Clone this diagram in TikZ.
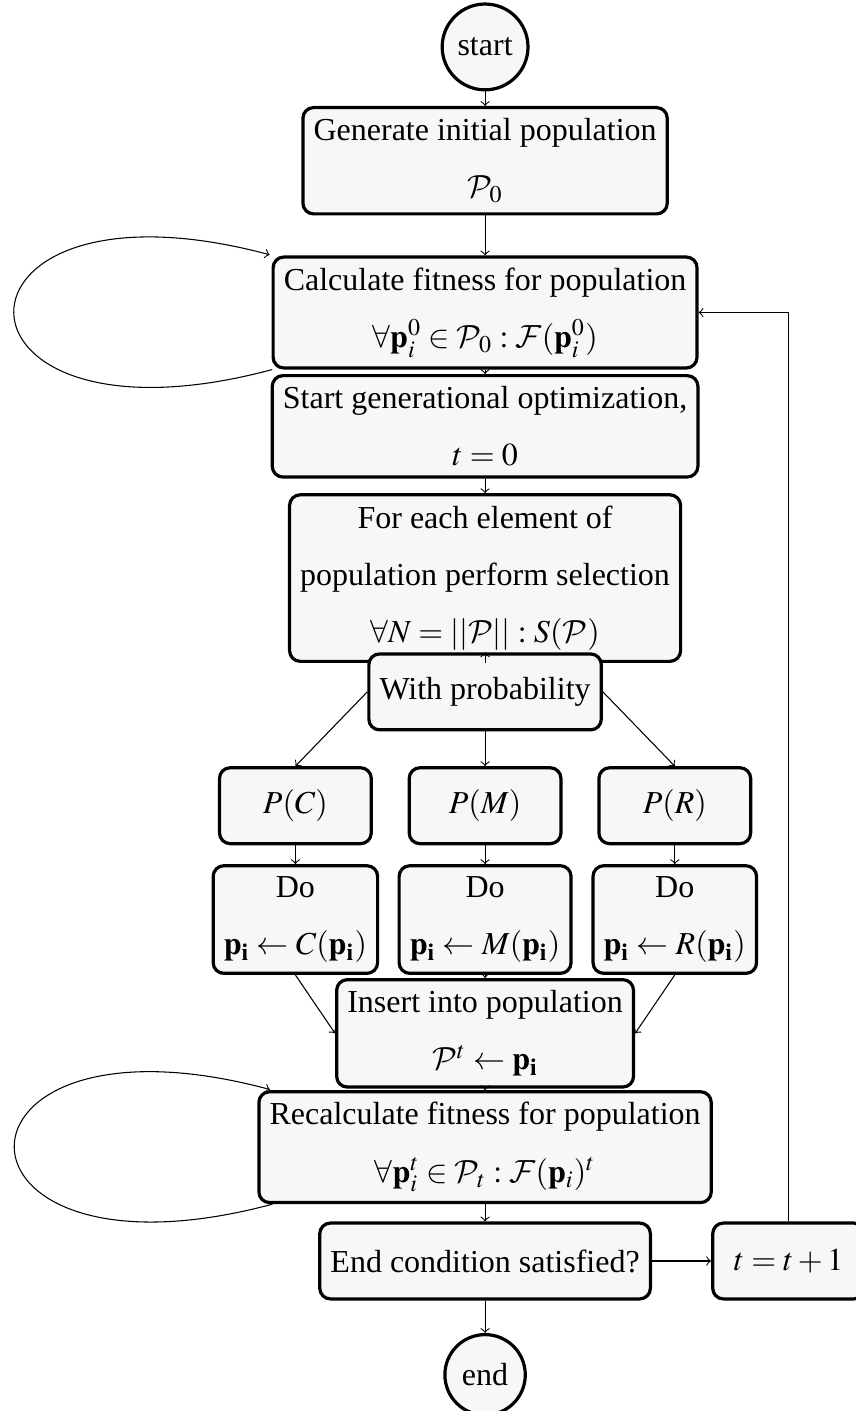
\documentclass[tikz,border=0pt,12pt]{standalone}
\usepackage{mathptmx}
\DeclareMathAlphabet{\mathcal}{OMS}{cmsy}{m}{n}
\usepackage{fontspec}
\setmainfont{Liberation Serif}
\usetikzlibrary{positioning}

\begin{document}
\begin{tikzpicture}[
    node distance=1.5cm,
    block/.style={rectangle, rounded corners, draw, very thick, fill=black!3, minimum width=2cm, minimum height=1cm, align=center},
    term/.style={circle, draw, very thick, fill=black!3}
]
    \useasboundingbox (-181.9pt,17.6pt) rectangle (138.75pt,-511.5pt);
    \node[term] (start) {start};
    \node[block, below of=start] (init) {Generate initial population\\[7pt] $\mathcal{P}_0$};
    \node[block, node distance=2cm, below of=init] (fit) {Calculate fitness for population\\[7pt] $\forall \mathbf{p}_i^0 \in \mathcal{P}_0 : \mathcal{F}(\mathbf{p}_i^0)$};
    \node[block, below of=fit] (gen) {Start generational optimization,\\[7pt] $t = 0$};
    \node[block, node distance=2cm, below of=gen] (select) {For each element of\\[7pt] population perform selection\\[7pt] $\forall N = ||\mathcal{P}|| : S(\mathcal{P})$};
    \node[block, below of=select] (prob) {With probability};
    \node[block, below of=prob] (pm) {$P(M)$};
    \node[block, node distance=2.5cm, left of=pm] (pc) {$P(C)$};
    \node[block, node distance=2.5cm, right of=pm] (pr) {$P(R)$};
    \node[block, below of=pc] (doc) {Do\\[7pt] $\mathbf{p_i} \leftarrow C(\mathbf{p_i})$};
    \node[block, below of=pm] (dom) {Do\\[7pt] $\mathbf{p_i} \leftarrow M(\mathbf{p_i})$};
    \node[block, below of=pr] (dor) {Do\\[7pt] $\mathbf{p_i} \leftarrow R(\mathbf{p_i})$};
    \node[block, below of=dom] (insert) {Insert into population\\[7pt] $\mathcal{P}^t \leftarrow \mathbf{p_i}$};
    \node[block, below of=insert] (refit) {Recalculate fitness for population\\[7pt] $\forall \mathbf{p}_i^t \in \mathcal{P}_t : \mathcal{F}(\mathbf{p}_i)^t$};
    \node[block, below of=refit] (cond) {End condition satisfied?};
    \node[block, node distance=4cm, right of=cond] (incr) {$t = t + 1$};
    \node[term, below of=cond] (end) {end};

    \draw[->] (start) -- (init);
    \draw[->] (init) -- (fit);
    \draw (fit) edge[loop left] (fit);
    \draw[->] (fit) -- (gen);
    \draw[->] (gen) -- (select);
    \draw[->] (select) -- (prob);
    \draw[->] (prob.west) -- (pc.north);
    \draw[->] (prob) -- (pm);
    \draw[->] (prob.east) -- (pr.north);
    \draw[->] (pc) -- (doc);
    \draw[->] (pm) -- (dom);
    \draw[->] (pr) -- (dor);
    \draw[->] (doc.south) -- (insert.west);
    \draw[->] (dom) -- (insert);
    \draw[->] (dor.south) -- (insert.east);
    \draw[->] (insert) -- (refit);
    \draw (refit) edge[loop left] (refit);
    \draw[->] (refit) -- (cond);
    \draw[->] (cond) -- (incr);
    \draw[->] (incr.north) |- (fit.east);
    \draw[->] (cond) -- (end);
\end{tikzpicture}
\end{document}
